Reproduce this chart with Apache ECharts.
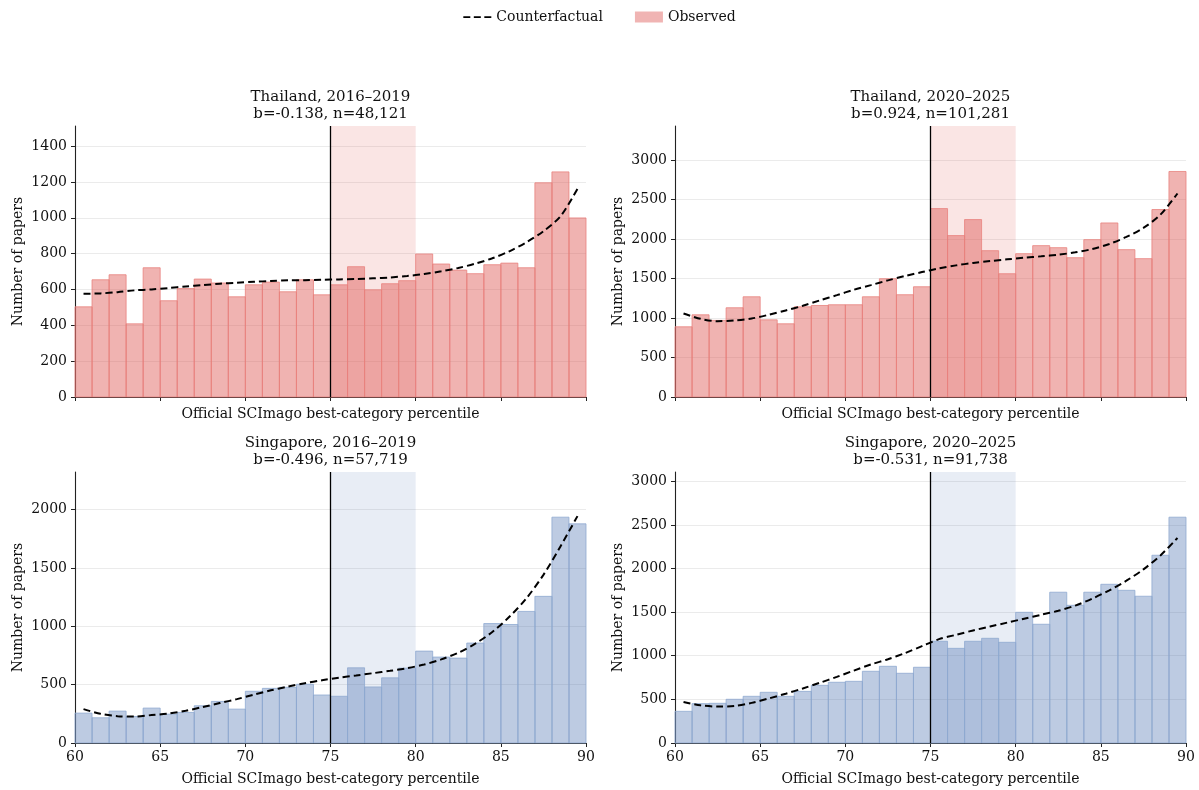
<!DOCTYPE html>
<html>
<head>
<meta charset="utf-8">
<script src="https://cdn.jsdelivr.net/npm/echarts@6/dist/echarts.min.js"></script>
<style>html,body{margin:0;padding:0;background:#fff;}#c{width:1199px;height:790px;}</style>
</head>
<body>
<div id="c"></div>
<script>
// ---- data ----
const binStarts = [60,61,62,63,64,65,66,67,68,69,70,71,72,73,74,75,76,77,78,79,80,81,82,83,84,85,86,87,88,89];
const binCenters = [60.5,61.5,62.5,63.5,64.5,65.5,66.5,67.5,68.5,69.5,70.5,71.5,72.5,73.5,74.5,75.5,76.5,77.5,78.5,79.5,80.5,81.5,82.5,83.5,84.5,85.5,86.5,87.5,88.5,89.5];

const thBeforeObs = [503,654,682,408,721,537,605,658,636,559,626,641,587,654,570,626,727,598,632,649,798,742,708,688,738,747,721,1195,1256,999];
const thBeforeCf  = [576,578,585,595,600,608,617,624,632,637,643,647,651,652,654,656,658,662,667,675,686,701,720,744,774,813,863,925,1008,1161];

const thAfterObs = [889,1041,970,1130,1269,977,927,1142,1159,1168,1168,1269,1498,1295,1396,2386,2044,2247,1853,1561,1815,1917,1891,1764,1993,2204,1866,1752,2374,2856];
const thAfterCf  = [1058,990,960,969,994,1041,1096,1155,1223,1290,1358,1417,1477,1532,1582,1629,1667,1697,1722,1743,1764,1781,1802,1832,1874,1938,2027,2141,2310,2577];

const sgBeforeObs = [256,216,273,227,299,247,262,319,356,290,443,468,477,503,411,400,644,480,558,641,787,736,727,856,1023,1015,1127,1256,1934,1877];
const sgBeforeCf  = [290,250,230,227,239,253,276,308,342,376,414,451,483,512,537,560,578,598,618,641,672,716,773,851,951,1081,1239,1440,1684,1943];

const sgAfterObs = [363,451,455,501,535,581,535,592,661,696,707,822,879,799,868,1166,1085,1166,1200,1154,1498,1361,1728,1578,1728,1819,1750,1682,2152,2588];
const sgAfterCf  = [470,432,417,424,460,510,565,625,690,758,830,900,960,1030,1110,1190,1240,1290,1335,1380,1425,1470,1515,1575,1655,1750,1860,1990,2150,2350];

const panelTitles = ['Thailand, 2016\u20132019\nb=-0.138, n=48,121', 'Thailand, 2020\u20132025\nb=0.924, n=101,281',
                     'Singapore, 2016\u20132019\nb=-0.496, n=57,719', 'Singapore, 2020\u20132025\nb=-0.531, n=91,738'];
const yMax = [1512, 3432, 2321, 3106];
const yTicks = [[0,200,400,600,800,1000,1200,1400],[0,500,1000,1500,2000,2500,3000],[0,500,1000,1500,2000],[0,500,1000,1500,2000,2500,3000]];
const xTicks = [60,65,70,75,80,85,90];
const bandRange = [75, 80];
const cutoff = 75;

// ---- styles ----
const FONT = '"DejaVu Serif", serif';
const RED = {fill:'rgba(221,82,77,0.44)', edge:'#e8827e', band:'rgba(221,82,77,0.15)'};
const BLUE = {fill:'rgba(76,114,176,0.37)', edge:'#8fa9d1', band:'rgba(76,114,176,0.13)'};
const panels = [
  {obs: thBeforeObs, cf: thBeforeCf, pal: RED, bottom:false},
  {obs: thAfterObs,  cf: thAfterCf,  pal: RED, bottom:false},
  {obs: sgBeforeObs, cf: sgBeforeCf, pal: BLUE, bottom:true},
  {obs: sgAfterObs,  cf: sgAfterCf,  pal: BLUE, bottom:true}
];
const gridPos = [
  {left:75, top:126, width:511, height:271},
  {left:675, top:126, width:511, height:271},
  {left:75, top:472, width:511, height:271},
  {left:675, top:472, width:511, height:271}
];

const grids = [], xAxes = [], yAxes = [], series = [], titles = [];
panels.forEach((p, i) => {
  grids.push(Object.assign({containLabel:false}, gridPos[i]));
  titles.push({
    text: panelTitles[i], left: gridPos[i].left + gridPos[i].width/2, top: gridPos[i].top - 37, textAlign:'center', padding:0,
    textStyle:{fontFamily:FONT, fontSize:15, fontWeight:'normal', color:'#111', lineHeight:17}
  });
  xAxes.push({
    gridIndex:i, type:'value', min:60, max:90, interval:5,
    name:'Official SCImago best-category percentile', nameLocation:'middle', nameGap: p.bottom ? 29 : 10,
    nameTextStyle:{fontFamily:FONT, fontSize:14, color:'#111'},
    axisLine:{show:true, onZero:false, lineStyle:{color:'#222', width:1.1}},
    axisTick:{show:true, length:4, lineStyle:{color:'#222', width:1}},
    axisLabel:{show:p.bottom, fontFamily:FONT, fontSize:14, color:'#111', margin:7},
    splitLine:{show:false}
  });
  yAxes.push({
    gridIndex:i, type:'value', min:0, max:yMax[i],
    name:'Number of papers', nameLocation:'middle', nameGap: 50,
    nameTextStyle:{fontFamily:FONT, fontSize:14, color:'#111'},
    axisLine:{show:true, lineStyle:{color:'#222', width:1.1}},
    axisTick:{show:true, length:4, lineStyle:{color:'#222', width:1}, customValues: yTicks[i]},
    axisLabel:{fontFamily:FONT, fontSize:14, color:'#111', margin:8, customValues: yTicks[i],
               formatter: v => String(v)},
    splitLine:{show:true, lineStyle:{color:'#ebebeb', width:1}}
  });
  // band 75-80
  series.push({
    type:'custom', xAxisIndex:i, yAxisIndex:i, z:1, silent:true, tooltip:{show:false},
    data:[[bandRange[0], bandRange[1]]],
    renderItem:function(params, api){
      const a = api.coord([api.value(0), 0]);
      const b = api.coord([api.value(1), 0]);
      const cs = params.coordSys;
      return {type:'rect', shape:{x:a[0], y:cs.y, width:b[0]-a[0], height:cs.height}, style:{fill:p.pal.band}};
    }
  });
  // histogram bars
  series.push({
    type:'custom', name:'Observed', xAxisIndex:i, yAxisIndex:i, z:2,
    itemStyle:{color:p.pal.fill},
    data: binStarts.map((s, k) => [s, s+1, p.obs[k]]),
    encode:{x:[0,1], y:2},
    renderItem:function(params, api){
      const tl = api.coord([api.value(0), api.value(2)]);
      const br = api.coord([api.value(1), 0]);
      return {type:'rect', shape:{x:tl[0], y:tl[1], width:br[0]-tl[0], height:br[1]-tl[1]},
              style:{fill:p.pal.fill, stroke:p.pal.edge, lineWidth:0.8}};
    }
  });
  // cutoff vertical line
  series.push({
    type:'custom', xAxisIndex:i, yAxisIndex:i, z:3, silent:true,
    data:[[cutoff]],
    renderItem:function(params, api){
      const a = api.coord([api.value(0), 0]);
      const cs = params.coordSys;
      return {type:'line', shape:{x1:a[0], y1:cs.y, x2:a[0], y2:cs.y+cs.height}, style:{stroke:'#000', lineWidth:1.3}};
    }
  });
  // counterfactual
  series.push({
    type:'line', name:'Counterfactual', xAxisIndex:i, yAxisIndex:i, z:4,
    data: binCenters.map((c, k) => [c, p.cf[k]]),
    showSymbol:false, symbol:'none', smooth:0.3,
    itemStyle:{color:'#000'},
    lineStyle:{color:'#000', width:2, type:[7,4]}
  });
});

const chart = echarts.init(document.getElementById('c'), null, {renderer:'canvas'});
chart.setOption({
  animation:false,
  backgroundColor:'#fff',
  title: titles,
  legend:{
    top:5, left:'center', itemGap:32, itemWidth:28, itemHeight:11,
    textStyle:{fontFamily:FONT, fontSize:14, color:'#111'},
    data:[{name:'Counterfactual', icon:'path://M0,4.5 L8,4.5 L8,6.5 L0,6.5 Z M12,4.5 L20,4.5 L20,6.5 L12,6.5 Z M24,4.5 L32,4.5 L32,6.5 L24,6.5 Z', itemStyle:{color:'#000'}},
          {name:'Observed', icon:'rect', itemStyle:{color:'#f0b4b3'}}]
  },
  grid: grids, xAxis: xAxes, yAxis: yAxes, series: series
});
</script>
</body>
</html>
